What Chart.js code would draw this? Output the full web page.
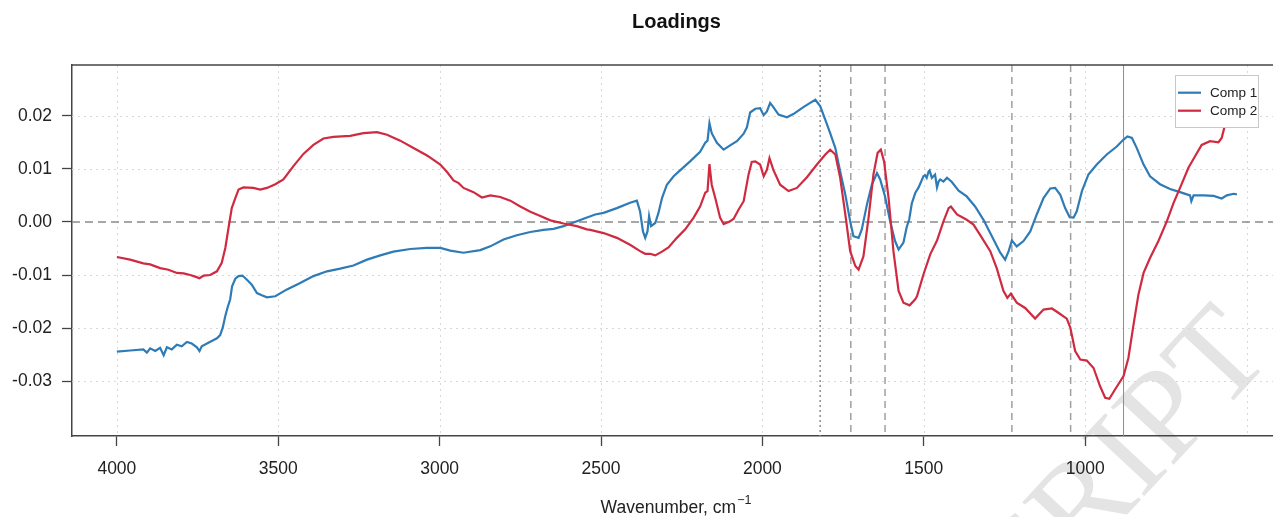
<!DOCTYPE html>
<html>
<head>
<meta charset="utf-8">
<title>Loadings</title>
<script src="https://cdn.jsdelivr.net/npm/chart.js@4.4.1/dist/chart.umd.min.js"></script>
<style>
  html, body { margin: 0; padding: 0; background: #ffffff; }
  #wrap { width: 1273px; height: 517px; }
</style>
</head>
<body>
<div id="wrap"><canvas id="c" width="1273" height="517"></canvas></div>
<script>
// PCA loadings of the FTIR spectra, wavenumber in cm^-1
const comp1Wavenumber = [4000,3959,3918,3907,3897,3881,3866,3855,3845,3830,3814,3799,3783,3768,3752,3744,3737,3721,3706,3690,3680,3672,3664,3657,3649,3643,3633,3623,3611,3597,3582,3566,3551,3535,3509,3473,3432,3391,3349,3308,3267,3225,3184,3143,3091,3040,2998,2967,2926,2874,2843,2802,2761,2719,2678,2647,2616,2585,2554,2518,2492,2451,2410,2389,2379,2370,2363,2356,2351,2345,2332,2322,2311,2296,2275,2255,2224,2193,2177,2170,2164,2157,2141,2120,2100,2079,2058,2048,2038,2022,2007,1996,1986,1976,1966,1950,1924,1904,1873,1852,1836,1821,1805,1790,1774,1759,1743,1728,1718,1702,1692,1676,1661,1645,1635,1620,1604,1589,1578,1563,1553,1545,1537,1526,1516,1501,1496,1491,1485,1482,1475,1470,1465,1459,1454,1449,1439,1428,1418,1413,1392,1367,1341,1315,1289,1263,1248,1237,1227,1212,1191,1170,1150,1129,1108,1093,1077,1062,1048,1036,1026,1010,990,964,933,902,881,869,855,840,819,799,768,737,706,675,671,664,633,602,577,561,540,530];
const comp1Loading = [-0.0244,-0.0242,-0.0240,-0.0246,-0.0238,-0.0243,-0.0237,-0.0251,-0.0236,-0.0240,-0.0231,-0.0234,-0.0226,-0.0229,-0.0236,-0.0243,-0.0234,-0.0229,-0.0224,-0.0219,-0.0213,-0.0199,-0.0177,-0.0161,-0.0146,-0.0121,-0.0107,-0.0102,-0.0101,-0.0109,-0.0118,-0.0134,-0.0138,-0.0142,-0.0140,-0.0127,-0.0115,-0.0102,-0.0093,-0.0088,-0.0082,-0.0071,-0.0063,-0.0056,-0.0051,-0.0049,-0.0049,-0.0054,-0.0058,-0.0053,-0.0046,-0.0033,-0.0025,-0.0019,-0.0015,-0.0013,-0.0008,-0.0001,0.0006,0.0014,0.0017,0.0026,0.0036,0.0040,0.0020,-0.0018,-0.0030,-0.0018,0.0011,-0.0008,-0.0002,0.0017,0.0045,0.0070,0.0086,0.0097,0.0114,0.0132,0.0149,0.0153,0.0186,0.0167,0.0149,0.0136,0.0144,0.0152,0.0166,0.0178,0.0206,0.0213,0.0214,0.0201,0.0208,0.0224,0.0216,0.0202,0.0197,0.0203,0.0216,0.0224,0.0230,0.0218,0.0192,0.0167,0.0139,0.0095,0.0051,0.0001,-0.0027,-0.0030,-0.0014,0.0033,0.0070,0.0092,0.0080,0.0048,0.0001,-0.0036,-0.0052,-0.0039,-0.0010,0.0005,0.0035,0.0055,0.0065,0.0086,0.0088,0.0083,0.0095,0.0097,0.0083,0.0086,0.0089,0.0065,0.0076,0.0080,0.0076,0.0083,0.0078,0.0075,0.0059,0.0048,0.0029,0.0004,-0.0027,-0.0058,-0.0071,-0.0055,-0.0035,-0.0046,-0.0036,-0.0018,0.0014,0.0045,0.0063,0.0064,0.0051,0.0026,0.0009,0.0008,0.0020,0.0058,0.0089,0.0108,0.0127,0.0142,0.0155,0.0161,0.0158,0.0139,0.0108,0.0086,0.0071,0.0062,0.0056,0.0050,0.0039,0.0050,0.0050,0.0049,0.0044,0.0050,0.0053,0.0052];

const comp2Wavenumber = [4000,3959,3918,3897,3866,3840,3814,3793,3773,3757,3744,3731,3711,3690,3675,3664,3654,3644,3633,3623,3608,3577,3556,3535,3509,3484,3453,3422,3391,3360,3329,3277,3236,3194,3163,3122,3081,3039,3029,2998,2977,2957,2941,2926,2895,2869,2843,2812,2781,2750,2719,2688,2657,2616,2575,2544,2533,2492,2451,2410,2379,2363,2348,2332,2311,2291,2265,2239,2213,2193,2177,2170,2164,2157,2146,2131,2120,2100,2089,2074,2058,2043,2033,2022,2007,1996,1986,1978,1966,1945,1919,1893,1862,1831,1805,1790,1774,1759,1743,1728,1712,1702,1687,1671,1656,1643,1633,1623,1609,1594,1578,1563,1544,1527,1521,1501,1480,1459,1439,1423,1416,1397,1367,1346,1325,1294,1274,1253,1241,1230,1212,1186,1155,1129,1103,1083,1057,1046,1031,1015,995,974,954,938,925,907,881,866,850,835,819,799,773,747,726,706,680,659,639,613,587,577,569,555,540,530];
const comp2Loading = [-0.0066,-0.0071,-0.0078,-0.0080,-0.0087,-0.0090,-0.0096,-0.0097,-0.0100,-0.0103,-0.0106,-0.0101,-0.0100,-0.0093,-0.0077,-0.0049,-0.0011,0.0026,0.0045,0.0061,0.0065,0.0064,0.0061,0.0064,0.0071,0.0080,0.0105,0.0128,0.0145,0.0157,0.0160,0.0162,0.0167,0.0169,0.0164,0.0153,0.0139,0.0125,0.0121,0.0108,0.0094,0.0078,0.0073,0.0064,0.0056,0.0046,0.0050,0.0047,0.0040,0.0029,0.0019,0.0011,0.0003,-0.0003,-0.0008,-0.0014,-0.0015,-0.0021,-0.0030,-0.0043,-0.0055,-0.0060,-0.0060,-0.0063,-0.0056,-0.0048,-0.0030,-0.0014,0.0008,0.0029,0.0055,0.0058,0.0109,0.0070,0.0045,0.0008,-0.0004,0.0001,0.0006,0.0023,0.0039,0.0089,0.0113,0.0114,0.0108,0.0086,0.0098,0.0120,0.0098,0.0070,0.0058,0.0064,0.0084,0.0108,0.0127,0.0136,0.0127,0.0083,0.0014,-0.0055,-0.0083,-0.0090,-0.0065,0.0008,0.0089,0.0130,0.0136,0.0114,0.0045,-0.0055,-0.0130,-0.0152,-0.0157,-0.0146,-0.0140,-0.0099,-0.0061,-0.0035,0.0001,0.0026,0.0029,0.0014,0.0004,-0.0005,-0.0025,-0.0055,-0.0087,-0.0130,-0.0143,-0.0135,-0.0152,-0.0162,-0.0182,-0.0165,-0.0163,-0.0171,-0.0182,-0.0199,-0.0243,-0.0259,-0.0261,-0.0275,-0.0309,-0.0331,-0.0333,-0.0315,-0.0290,-0.0256,-0.0193,-0.0137,-0.0096,-0.0068,-0.0036,0.0001,0.0036,0.0064,0.0102,0.0124,0.0145,0.0152,0.0150,0.0158,0.0177,0.0200,0.0220,0.0228];

const seriesNames = ['Comp 1', 'Comp 2'];
const seriesColors = ['#2F7BB6', '#CF2A40'];

// axis ranges and ticks
const xMin = 418, xMax = 4139;
const yMin = -0.0403, yMax = 0.02954;
const xLabelValues = [1000, 1500, 2000, 2500, 3000, 3500, 4000];
const xGridValues = [500, 1000, 1500, 2000, 2500, 3000, 3500, 4000];
const yTickValues = [-0.03, -0.02, -0.01, 0, 0.01, 0.02];

// marked band positions (cm^-1)
const dottedMarks = [1821];
const dashedMarks = [1726, 1620, 1227, 1045];
const solidMarks = [881];

const FONT = "'Liberation Sans', Arial, Helvetica, sans-serif";

function toPoints(xs, ys) { return xs.map((x, i) => ({ x: x, y: ys[i] })); }

const decorations = {
  id: 'decorations',
  beforeDraw(chart) {
    // faint diagonal watermark
    const ctx = chart.ctx;
    ctx.save();
    ctx.translate(1274, 357);
    ctx.rotate(-47 * Math.PI / 180);
    ctx.font = "130px 'Liberation Serif', 'Times New Roman', serif";
    ctx.fillStyle = '#e4e4e4';
    ctx.textAlign = 'right';
    ctx.textBaseline = 'alphabetic';
    ctx.fillText('ACCEPTED MANUSCRIPT', 0, 0);
    ctx.restore();
  },
  beforeDatasetsDraw(chart) {
    const { ctx, chartArea: a, scales: { x, y } } = chart;
    ctx.save();
    ctx.beginPath();
    ctx.rect(a.left, a.top, a.right - a.left, a.bottom - a.top);
    ctx.clip();
    // dotted grid
    ctx.strokeStyle = '#d8d8d8';
    ctx.lineWidth = 1;
    ctx.setLineDash([2, 4]);
    xGridValues.forEach(v => {
      const px = Math.round(x.getPixelForValue(v)) + 0.5;
      ctx.beginPath(); ctx.moveTo(px, a.top); ctx.lineTo(px, a.bottom); ctx.stroke();
    });
    yTickValues.forEach(v => {
      if (v === 0) return;
      const py = Math.round(y.getPixelForValue(v)) + 0.5;
      ctx.beginPath(); ctx.moveTo(a.left, py); ctx.lineTo(a.right, py); ctx.stroke();
    });
    // zero line
    ctx.strokeStyle = '#8a8a8a';
    ctx.lineWidth = 1.5;
    ctx.setLineDash([8, 5]);
    const y0 = y.getPixelForValue(0);
    ctx.beginPath(); ctx.moveTo(a.left, y0); ctx.lineTo(a.right, y0); ctx.stroke();
    // band markers
    const vline = (v) => {
      const px = x.getPixelForValue(v);
      ctx.beginPath(); ctx.moveTo(px, a.top); ctx.lineTo(px, a.bottom); ctx.stroke();
    };
    ctx.strokeStyle = '#8c8c8c';
    ctx.lineWidth = 1.5;
    ctx.setLineDash([2, 3]);
    dottedMarks.forEach(vline);
    ctx.strokeStyle = '#a0a0a0';
    ctx.setLineDash([7, 5]);
    dashedMarks.forEach(vline);
    ctx.strokeStyle = '#8c8c8c';
    ctx.lineWidth = 1;
    ctx.setLineDash([]);
    solidMarks.forEach(vline);
    ctx.restore();
    // top frame line
    ctx.save();
    ctx.strokeStyle = '#444444';
    ctx.lineWidth = 1.5;
    ctx.beginPath(); ctx.moveTo(a.left, a.top); ctx.lineTo(a.right, a.top); ctx.stroke();
    ctx.restore();
  },
  afterDatasetsDraw(chart) {
    // legend box inside the plot
    const ctx = chart.ctx;
    ctx.save();
    ctx.fillStyle = '#ffffff';
    ctx.strokeStyle = '#c8c8c8';
    ctx.lineWidth = 1;
    ctx.fillRect(1175.5, 75.5, 83, 52);
    ctx.strokeRect(1175.5, 75.5, 83, 52);
    ctx.font = '13.5px ' + FONT;
    ctx.textBaseline = 'middle';
    ctx.textAlign = 'left';
    chart.data.datasets.forEach((ds, i) => {
      const ly = 92.7 + i * 18;
      ctx.strokeStyle = ds.borderColor;
      ctx.lineWidth = 2.2;
      ctx.beginPath(); ctx.moveTo(1178, ly); ctx.lineTo(1201, ly); ctx.stroke();
      ctx.fillStyle = '#222222';
      ctx.fillText(ds.label, 1210, ly + 0.5);
    });
    ctx.restore();
  },
  afterDraw(chart) {
    const ctx = chart.ctx;
    ctx.save();
    ctx.fillStyle = '#111111';
    ctx.textAlign = 'center';
    ctx.textBaseline = 'alphabetic';
    ctx.font = 'bold 20px ' + FONT;
    ctx.fillText('Loadings', 676.5, 27.5);
    // axis title with superscript
    ctx.textAlign = 'left';
    ctx.font = '17.5px ' + FONT;
    const main = 'Wavenumber, cm';
    const mw = ctx.measureText(main).width;
    ctx.font = '12.5px ' + FONT;
    const sup = '\u22121';
    const sw = ctx.measureText(sup).width;
    const start = 676 - (mw + sw + 1) / 2;
    ctx.font = '17.5px ' + FONT;
    ctx.fillStyle = '#222222';
    ctx.fillText(main, start, 513);
    ctx.font = '12.5px ' + FONT;
    ctx.fillText(sup, start + mw + 1, 504);
    ctx.restore();
  }
};

new Chart(document.getElementById('c'), {
  type: 'line',
  data: {
    datasets: [
      { label: seriesNames[0], data: toPoints(comp1Wavenumber, comp1Loading), borderColor: seriesColors[0], backgroundColor: seriesColors[0], borderWidth: 2.2, pointRadius: 0, tension: 0, order: 1 },
      { label: seriesNames[1], data: toPoints(comp2Wavenumber, comp2Loading), borderColor: seriesColors[1], backgroundColor: seriesColors[1], borderWidth: 2.2, pointRadius: 0, tension: 0, order: 0 }
    ]
  },
  options: {
    responsive: false,
    devicePixelRatio: 1,
    animation: false,
    layout: { padding: { top: 65, right: 0, bottom: 0, left: 0 } },
    plugins: { legend: { display: false }, title: { display: false }, tooltip: { enabled: false } },
    scales: {
      x: {
        type: 'linear', reverse: true, min: xMin, max: xMax,
        afterBuildTicks: s => { s.ticks = xLabelValues.map(v => ({ value: v })); },
        afterFit: s => { s.height = 81; },
        ticks: { callback: v => String(v), font: { family: FONT, size: 17.5 }, color: '#222222', padding: 13, maxRotation: 0, autoSkip: false },
        grid: { drawOnChartArea: false, drawTicks: true, tickLength: 10, tickColor: '#444444', tickWidth: 1.3 },
        border: { display: true, color: '#444444', width: 1.5 }
      },
      y: {
        type: 'linear', min: yMin, max: yMax,
        afterBuildTicks: s => { s.ticks = yTickValues.map(v => ({ value: v })); },
        afterFit: s => { s.width = 72; },
        ticks: { callback: v => v.toFixed(2), font: { family: FONT, size: 17.5 }, color: '#222222', padding: 10 },
        grid: { drawOnChartArea: false, drawTicks: true, tickLength: 10, tickColor: '#444444', tickWidth: 1.3 },
        border: { display: true, color: '#444444', width: 1.5 }
      }
    }
  },
  plugins: [decorations]
});
</script>
</body>
</html>
